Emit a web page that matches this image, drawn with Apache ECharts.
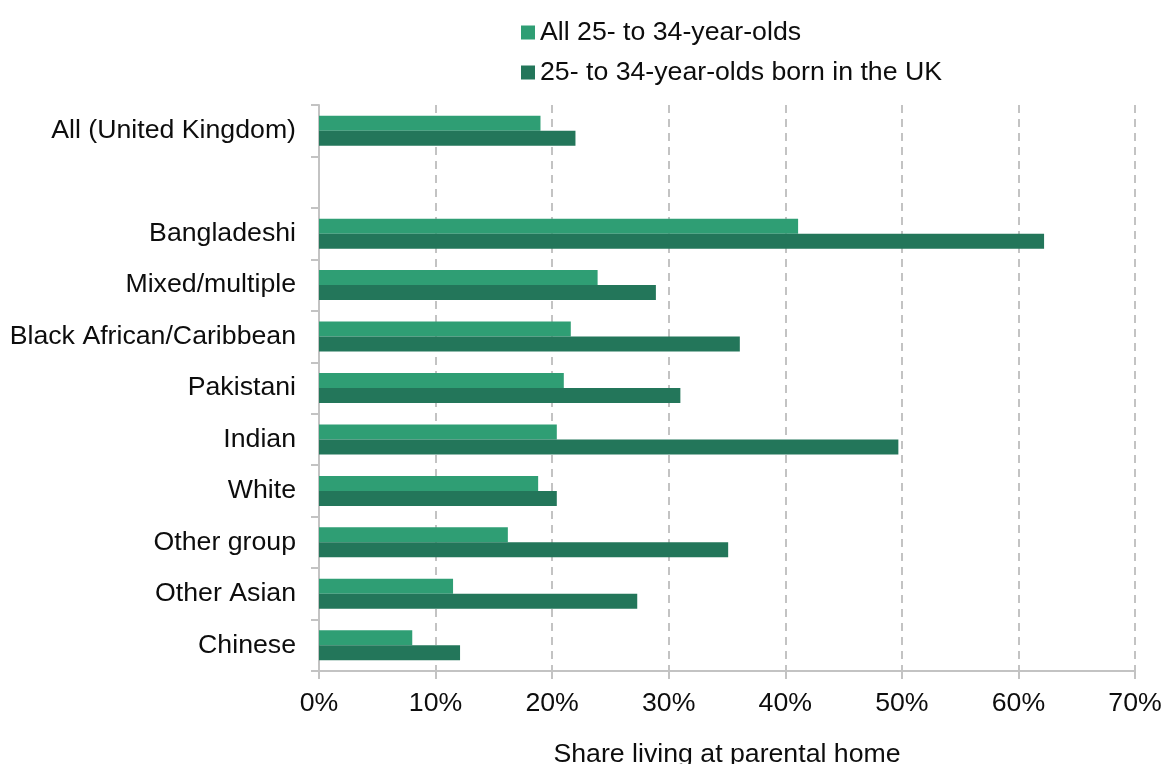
<!DOCTYPE html>
<html>
<head>
<meta charset="utf-8">
<script src="https://cdn.jsdelivr.net/npm/echarts@6/dist/echarts.min.js"></script>
<style>
  html, body { margin: 0; padding: 0; background: #fff; }
  #chart { width: 1163px; height: 764px; }
</style>
</head>
<body>
<div id="chart"></div>
<script>
// Groups, top to bottom; the empty entry is a spacer row under the UK total
const categories = [
  'All (United Kingdom)', '', 'Bangladeshi', 'Mixed/multiple',
  'Black African/Caribbean', 'Pakistani', 'Indian', 'White',
  'Other group', 'Other Asian', 'Chinese'
];
// Share living at the parental home, %
const allAged25to34 = [19.0, null, 41.1, 23.9, 21.6, 21.0, 20.4, 18.8, 16.2, 11.5, 8.0];
const ukBornAged25to34 = [22.0, null, 62.2, 28.9, 36.1, 31.0, 49.7, 20.4, 35.1, 27.3, 12.1];
const seriesNames = ['All 25- to 34-year-olds', '25- to 34-year-olds born in the UK'];
const xTicks = { min: 0, max: 70, interval: 10 };

const FONT = '"Liberation Sans", Arial, sans-serif';
const FONT_SIZE = 26.7;
const TEXT = '#0d0d0d';
const axisGrey = '#c3c3c3';

const chart = echarts.init(document.getElementById('chart'), null, { renderer: 'canvas' });
chart.setOption({
  animation: false,
  textStyle: { fontFamily: FONT },
  legend: {
    orient: 'vertical',
    left: 516,
    top: 14,
    itemWidth: 14,
    itemHeight: 14,
    itemGap: 13,
    icon: 'rect',
    textStyle: { fontFamily: FONT, fontSize: FONT_SIZE, color: TEXT },
    data: seriesNames
  },
  grid: {
    left: 319, right: 28, top: 105, bottom: 93,
    containLabel: false,
    outerBoundsMode: 'none'
  },
  xAxis: {
    type: 'value',
    min: xTicks.min,
    max: xTicks.max,
    interval: xTicks.interval,
    name: 'Share living at parental home',
    nameLocation: 'middle',
    nameGap: 70,
    nameTextStyle: { fontFamily: FONT, fontSize: FONT_SIZE, color: TEXT },
    axisLine: { show: true, lineStyle: { color: axisGrey, width: 2 } },
    axisTick: { show: true, length: 8, lineStyle: { color: axisGrey, width: 2 } },
    axisLabel: { formatter: '{value}%', fontFamily: FONT, fontSize: FONT_SIZE, color: TEXT, margin: 19 },
    splitLine: { show: true, lineStyle: { color: axisGrey, width: 2, type: [8, 6] } }
  },
  yAxis: {
    type: 'category',
    inverse: true,
    data: categories,
    axisLine: { show: true, lineStyle: { color: axisGrey, width: 2 } },
    axisTick: { show: true, length: 8, lineStyle: { color: axisGrey, width: 2 } },
    axisLabel: { fontFamily: FONT, fontSize: FONT_SIZE, color: TEXT, margin: 23 },
    splitLine: { show: false }
  },
  series: [
    {
      name: seriesNames[0],
      type: 'bar',
      data: allAged25to34,
      barWidth: 15,
      barGap: '0%',
      itemStyle: { color: '#2f9e74' }
    },
    {
      name: seriesNames[1],
      type: 'bar',
      data: ukBornAged25to34,
      barWidth: 15,
      barGap: '0%',
      itemStyle: { color: '#23765a' }
    }
  ]
});
</script>
</body>
</html>
